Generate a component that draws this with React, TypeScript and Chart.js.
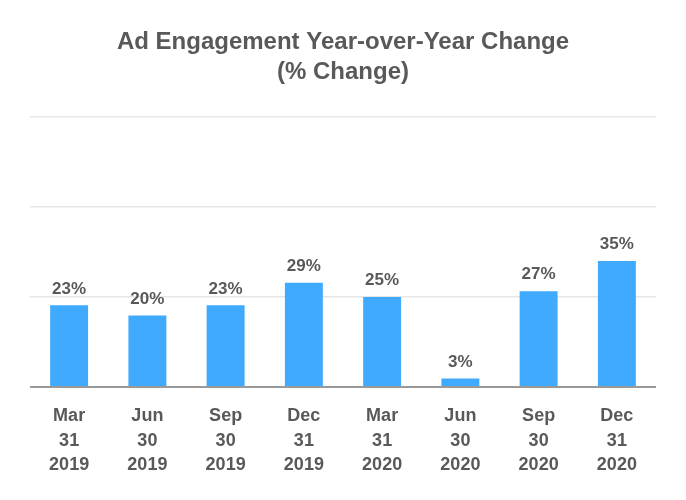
import React, { useEffect, useRef } from "react";
import { Chart, registerables } from "chart.js";

Chart.register(...registerables);

const categories: string[][] = [
  ["Mar", "31", "2019"],
  ["Jun", "30", "2019"],
  ["Sep", "30", "2019"],
  ["Dec", "31", "2019"],
  ["Mar", "31", "2020"],
  ["Jun", "30", "2020"],
  ["Sep", "30", "2020"],
  ["Dec", "31", "2020"],
];
const values: number[] = [22.7, 19.9, 22.7, 29, 25, 2.4, 26.6, 35];
const labels: string[] = ["23%", "20%", "23%", "29%", "25%", "3%", "27%", "35%"];
const titleLines: string[] = ["Ad Engagement Year-over-Year Change", "(% Change)"];

const TEXT = "#595959";
const FONT = "'Liberation Sans', Arial, sans-serif";

const valueLabelPlugin = {
  id: "valueLabels",
  afterDatasetsDraw(chart: any) {
    const ctx = chart.ctx;
    const meta = chart.getDatasetMeta(0);
    ctx.save();
    ctx.font = `bold 17px ${FONT}`;
    ctx.fillStyle = TEXT;
    ctx.textAlign = "center";
    ctx.textBaseline = "bottom";
    meta.data.forEach((bar: any, i: number) => {
      ctx.fillText(labels[i], bar.x, bar.y - 8);
    });
    ctx.restore();
  },
};

export default function App() {
  const ref = useRef<HTMLCanvasElement>(null);
  useEffect(() => {
    if (!ref.current) return;
    const chart = new Chart(ref.current, {
      type: "bar",
      data: {
        labels: categories,
        datasets: [
          {
            data: values,
            backgroundColor: "#40AAFF",
            barPercentage: 0.485,
            categoryPercentage: 1,
          },
        ],
      },
      options: {
        animation: false,
        responsive: false,
        devicePixelRatio: 1,
        layout: { padding: { top: 12, left: 30, right: 30, bottom: 6 } },
        plugins: {
          legend: { display: false },
          tooltip: { enabled: false },
          title: {
            display: true,
            text: titleLines,
            color: TEXT,
            font: { family: FONT, size: 24, weight: "bold", lineHeight: 1.25 },
            padding: { top: 15, bottom: 30 },
          },
        },
        scales: {
          x: {
            grid: { display: false, drawTicks: false },
            border: { display: false },
            ticks: {
              color: TEXT,
              font: { family: FONT, size: 18, weight: "bold", lineHeight: 1.35 },
              padding: 17,
              maxRotation: 0,
            },
          },
          y: {
            min: 0,
            max: 75,
            ticks: { display: false, stepSize: 25 },
            border: { display: false },
            grid: {
              drawTicks: false,
              color: (c: any) => (c.tick && c.tick.value === 0 ? "#999999" : "#e6e6e6"),
              lineWidth: (c: any) => (c.tick && c.tick.value === 0 ? 2 : 1.5),
            },
          },
        },
      },
      plugins: [valueLabelPlugin],
    });
    return () => chart.destroy();
  }, []);
  return (
    <div style={{ position: "absolute", left: 0, top: 0, width: 686, height: 500, background: "#fff" }}>
      <canvas ref={ref} width={686} height={500} style={{ width: 686, height: 500 }} />
    </div>
  );
}
